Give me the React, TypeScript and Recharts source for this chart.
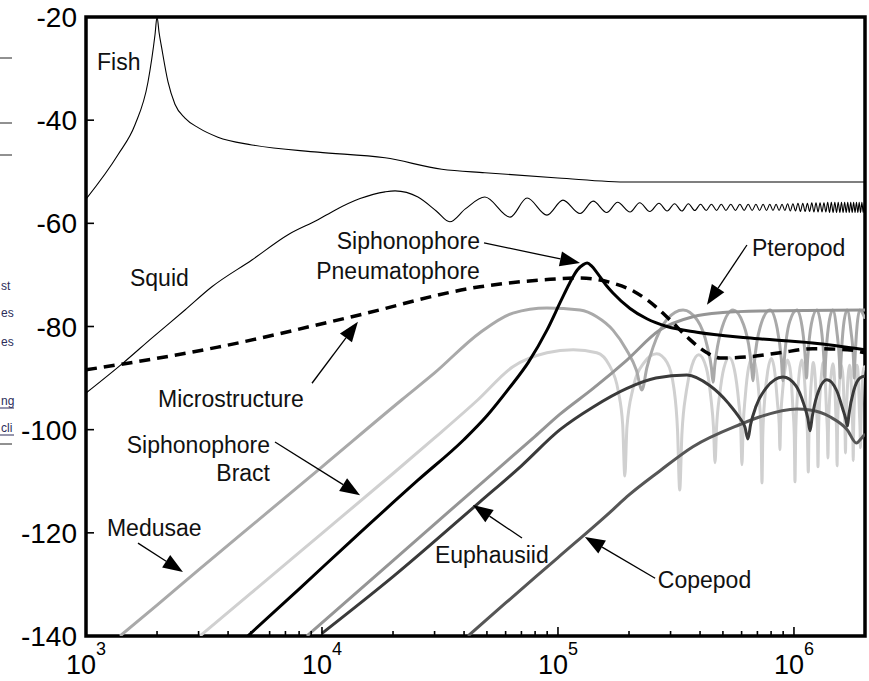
import React from "react";
import {
  LineChart,
  Line,
  XAxis,
  YAxis,
  ReferenceArea,
  ReferenceLine,
  ReferenceDot,
} from "recharts";

// frequency (Hz), target strength (dB)
const fish = [
  [1000, -55.3], [1366, -46.7], [1613, -40.9], [1831, -32.6], [1960, -23.5], [2000, -20],
  [2040, -23], [2093, -26], [2226, -32.6], [2382, -36.9], [2627, -39.6], [3000, -41.5],
  [3622, -43.3], [5046, -44.8], [9614, -46.2], [18500, -47.3], [32200, -49.5], [49000, -50.2],
  [100000, -51.2], [201000, -52], [2000000, -52],
];

const squid = [
  [1000, -92.9], [1434, -87.1], [1905, -82.2], [2627, -76.8], [3416, -72.3],
  [5046, -67.1], [7180, -62.2], [9614, -59.3], [11400, -57.4], [14500, -55.2],
  [18500, -53.9], [20400, -53.7], [25500, -54.9], [30500, -57.6], [34800, -59.7],
  [40500, -57.2], [49000, -54.9], [62700, -58.8], [74000, -55.1], [89800, -58.4],
  [105000, -55.5], [124000, -58.1], [141000, -55.7], [161000, -57.9], [179000, -55.9],
  [202000, -57.8], [222000, -56.0], [245000, -57.7], [268000, -56.1], [290000, -57.6],
  [312000, -56.2], [335000, -57.6], [357000, -56.2], [380000, -57.5], [402000, -56.3],
  [425000, -57.5], [447000, -56.3], [470000, -57.5], [492000, -56.3], [515000, -57.5],
  [540000, -56.3], [565000, -57.5], [590000, -56.3], [615000, -57.5], [640000, -56.3],
  [665000, -57.5], [690000, -56.3], [715000, -57.5], [740000, -56.3], [765000, -57.5],
  [790000, -56.3], [815000, -57.5], [840000, -56.3], [865000, -57.5], [890000, -56.3],
  [915000, -57.5], [940000, -56.2], [965000, -57.6], [990000, -56.2], [1015000, -57.6],
  [1040000, -56.1], [1065000, -57.7], [1090000, -56.1], [1115000, -57.7], [1140000, -56.1],
  [1165000, -57.7], [1190000, -56.0], [1215000, -57.8], [1240000, -56.0], [1265000, -57.8],
  [1290000, -56.0], [1315000, -57.8], [1340000, -56.0], [1365000, -57.8], [1390000, -55.9],
  [1415000, -57.9], [1440000, -55.9], [1465000, -57.9], [1490000, -55.9], [1515000, -57.9],
  [1540000, -55.9], [1565000, -57.9], [1590000, -55.9], [1615000, -57.9], [1640000, -55.9],
  [1665000, -57.9], [1690000, -55.9], [1715000, -57.9], [1740000, -55.9], [1765000, -57.9],
  [1790000, -55.9], [1815000, -57.9], [1840000, -55.9], [1865000, -57.9], [1890000, -55.9],
  [1915000, -57.9], [1940000, -55.9], [1965000, -57.9], [1990000, -55.9], [2000000, -56.5],
];

const microstructure = [
  [1000, -88.4], [3622, -84], [13400, -78.1], [46700, -72.3], [90000, -70.9],
  [124000, -70.6], [171000, -71.6], [210000, -73.2], [238000, -74.8], [298000, -78.7],
  [352000, -82], [428000, -85.1], [486000, -86.1], [632000, -85.9], [872000, -85.1],
  [1200000, -84.3], [1680000, -84.5], [2000000, -85.1],
];

const pneumatophore = [
  [4850, -140], [8080, -130.7], [13400, -121.4], [25500, -109.8], [40000, -101.9],
  [50000, -97.3], [62000, -92], [75000, -86.9], [89800, -80.7], [103000, -75], [112000, -71.6],
  [121000, -69], [128000, -68], [133000, -67.7], [139000, -68.3], [146000, -69.5],
  [160000, -72], [171000, -73.5], [202000, -76.5], [238000, -78.5], [290000, -80],
  [388000, -81.1], [632000, -82.2], [1200000, -83.2], [2000000, -84.5],
];

const medusae = [
  [1394, -140], [2000, -134], [3000, -127.2], [5000, -118.7], [10000, -107.2], [21800, -94.2],
  [30000, -89], [46700, -81.2], [64400, -77.4], [89800, -76.4], [124000, -76.8], [146000, -78.1],
  [171000, -80.7], [195000, -84.5], [215000, -88.5], [227000, -92.3], [238000, -88], [253000, -84],
  [290000, -78.6], [339000, -76.8], [390000, -78.8], [430000, -84], [447000, -88], [454000, -90.8],
  [462000, -87.5], [490000, -81], [552000, -76.8], [610000, -79.5], [650000, -85], [663000, -88.5],
  [670000, -90.5], [678000, -87.5], [720000, -80], [791000, -76.8], [850000, -80.5], [885000, -86.5],
  [898000, -90.5], [910000, -86.5], [960000, -79], [1030000, -76.8], [1090000, -81], [1118000, -86.5],
  [1130000, -90], [1142000, -86.5], [1185000, -79.5], [1250000, -76.8], [1310000, -81], [1340000, -86.5],
  [1350000, -90], [1362000, -86.5], [1400000, -80], [1460000, -76.8], [1520000, -81], [1558000, -86.5],
  [1570000, -90], [1583000, -86.5], [1620000, -80], [1680000, -76.8], [1745000, -81], [1788000, -86.5],
  [1800000, -90], [1813000, -86.5], [1850000, -80], [1900000, -76.8], [2000000, -78.5],
];

const bract = [
  [3040, -140], [5000, -131.7], [10000, -120.1], [20000, -108.5], [30000, -101.6], [45800, -94.2],
  [64400, -87.8], [89800, -85.1], [116000, -84.5], [146000, -85.1], [165000, -87.5], [180000, -92.5],
  [188000, -99], [192000, -109], [196000, -99.5], [208000, -92], [230000, -87.2], [262000, -85.3],
  [290000, -87], [310000, -92], [321000, -100], [328000, -111.7], [335000, -101], [350000, -92.5],
  [370000, -87.5], [395000, -85.5], [425000, -88], [445000, -94], [456000, -99.5], [463000, -106.4],
  [470000, -99.5], [485000, -93], [505000, -88], [532000, -86], [560000, -88.5], [583000, -94.5],
  [595000, -99.5], [602000, -106.8], [609000, -99.5], [622000, -93.5], [642000, -88], [667000, -86],
  [693000, -88.5], [715000, -95], [726000, -101], [732000, -110.3], [738000, -101], [752000, -94],
  [775000, -88.5], [802000, -86.2], [830000, -89], [852000, -95], [866000, -99], [872000, -103.9],
  [878000, -98.5], [893000, -93], [915000, -88.5], [940000, -86.5], [968000, -89], [990000, -96],
  [1003000, -101], [1010000, -110.1], [1017000, -101], [1032000, -94], [1053000, -89], [1078000, -86.5],
  [1105000, -89.5], [1127000, -96], [1140000, -100.5], [1150000, -108.2], [1158000, -100.5], [1172000, -94],
  [1190000, -89.5], [1207000, -87], [1230000, -90], [1250000, -97], [1258000, -100.5], [1264000, -107.2],
  [1272000, -100], [1290000, -93], [1310000, -89], [1330000, -87], [1355000, -90], [1375000, -97],
  [1386000, -100.5], [1393000, -105.5], [1400000, -100], [1420000, -93], [1440000, -89], [1460000, -87.2],
  [1485000, -90], [1505000, -97], [1516000, -100.5], [1523000, -107], [1530000, -100], [1550000, -93],
  [1570000, -89], [1590000, -87.5], [1615000, -90], [1635000, -97], [1646000, -100], [1653000, -104.5],
  [1660000, -99.5], [1680000, -93], [1700000, -89], [1720000, -87.5], [1745000, -90], [1765000, -97],
  [1776000, -100.5], [1783000, -106], [1790000, -100], [1810000, -93], [1830000, -89], [1850000, -87.5],
  [1875000, -90], [1895000, -97], [1906000, -100], [1913000, -103.5], [1920000, -99.5], [1940000, -93],
  [1960000, -89], [1985000, -87.8], [2000000, -88],
];

const pteropod = [
  [8630, -140], [20000, -125.4], [40000, -113.3], [60000, -106.3], [80000, -101.3],
  [102000, -97], [141000, -92], [196000, -86.5], [270000, -80.7], [373000, -78.1],
  [500000, -77.3], [718000, -77], [2000000, -76.8],
];

const euphausiid = [
  [10000, -139.5], [20000, -128.5], [46700, -114], [70000, -107], [102000, -100],
  [141000, -95.6], [196000, -92], [260000, -90], [352000, -89.4], [441000, -91.5],
  [530000, -95], [590000, -97.8], [620000, -99.5], [638000, -101.8], [655000, -99],
  [690000, -95.5], [760000, -92], [898000, -89.8], [1020000, -91.5], [1100000, -95],
  [1145000, -97.8], [1170000, -100.2], [1195000, -97.5], [1250000, -93.5], [1380000, -90.3],
  [1520000, -92.5], [1610000, -96], [1660000, -98], [1685000, -99.3], [1710000, -97],
  [1790000, -92.5], [1900000, -90], [2000000, -89.6],
];

const copepod = [
  [41600, -140], [60000, -133.6], [100000, -124.8], [171000, -115.5], [196000, -113],
  [270000, -108], [373000, -103.3], [590000, -99], [718000, -97.5], [1030000, -96],
  [1170000, -96.2], [1420000, -97.5], [1680000, -100], [1840000, -102.6], [1920000, -101.8],
  [2000000, -100.8],
];

const xMajorTicks = [1000, 10000, 100000, 1000000];
const xMinorTicks = [
  2000, 3000, 4000, 5000, 6000, 7000, 8000, 9000,
  20000, 30000, 40000, 50000, 60000, 70000, 80000, 90000,
  200000, 300000, 400000, 500000, 600000, 700000, 800000, 900000,
];
const yTicks = [-140, -120, -100, -80, -60, -40, -20];

// annotation text, anchored in data coordinates
const labels = [
  { text: "Fish", f: 1113, v: -30.3, anchor: "start" },
  { text: "Squid", f: 1536, v: -72.2, anchor: "start" },
  { text: "Siphonophore", f: 46700, v: -65.0, anchor: "end" },
  { text: "Pneumatophore", f: 46700, v: -70.8, anchor: "end" },
  { text: "Pteropod", f: 664000, v: -66.3, anchor: "start" },
  { text: "Microstructure", f: 2019, v: -95.6, anchor: "start" },
  { text: "Siphonophore", f: 6022, v: -104.5, anchor: "end" },
  { text: "Bract", f: 6022, v: -110.0, anchor: "end" },
  { text: "Medusae", f: 1227, v: -120.6, anchor: "start" },
  { text: "Euphausiid", f: 30100, v: -125.9, anchor: "start" },
  { text: "Copepod", f: 265000, v: -130.7, anchor: "start" },
];

const arrows = [
  { from: [48600, -63.8], to: [124000, -67.7] },
  { from: [632000, -64.2], to: [428000, -75.8] },
  { from: [9070, -91.0], to: [14200, -79.1] },
  { from: [6322, -102.4], to: [14500, -112.7] },
  { from: [1661, -122.0], to: [2576, -127.6] },
  { from: [70400, -121.0], to: [43600, -114.6] },
  { from: [258000, -128.8], to: [130000, -120.8] },
];

// scraps of the neighbouring figure at the left edge
const edgeTexts = ["st", "es", "es", "ng", "cli"];

const FONT = "'Liberation Sans', Arial, Helvetica, sans-serif";
const rows = (pairs: number[][]) => pairs.map(([f, v]) => ({ f, v }));
const xTicks = [...xMajorTicks, ...xMinorTicks].sort((a, b) => a - b);

const BottomTick = (p: any) => {
  const val = p.payload.value;
  const major = xMajorTicks.includes(val);
  return (
    <g>
      <line x1={p.x} y1={p.y} x2={p.x} y2={p.y - (major ? 9 : 5)} stroke="#000" strokeWidth={1.6} />
      {major && (
        <text x={p.x} y={p.y + 38} textAnchor="middle" fontSize={27} fontFamily={FONT} fill="#000">
          10
          <tspan dy={-19} fontSize={18}>
            {Math.round(Math.log10(val))}
          </tspan>
        </text>
      )}
    </g>
  );
};

const TopTick = (p: any) => {
  const major = xMajorTicks.includes(p.payload.value);
  return <line x1={p.x} y1={p.y} x2={p.x} y2={p.y + (major ? 9 : 5)} stroke="#000" strokeWidth={1.6} />;
};

const LeftTick = (p: any) => (
  <g>
    <line x1={p.x} y1={p.y} x2={p.x + 8} y2={p.y} stroke="#000" strokeWidth={1.6} />
    <text x={p.x - 9} y={p.y + 10} textAnchor="end" fontSize={28} fontFamily={FONT} fill="#000">
      {p.payload.value}
    </text>
  </g>
);

const RightTick = (p: any) => (
  <line x1={p.x} y1={p.y} x2={p.x - 8} y2={p.y} stroke="#000" strokeWidth={1.6} />
);

const Arrow = (p: any) => {
  const { x1, y1, x2, y2 } = p;
  const dx = x2 - x1;
  const dy = y2 - y1;
  const len = Math.hypot(dx, dy) || 1;
  const ux = dx / len;
  const uy = dy / len;
  const hl = 20;
  const hw = 7.5;
  const bx = x2 - ux * hl;
  const by = y2 - uy * hl;
  const pts = `${x2},${y2} ${bx - uy * hw},${by + ux * hw} ${bx + uy * hw},${by - ux * hw}`;
  return (
    <g>
      <line x1={x1} y1={y1} x2={bx} y2={by} stroke="#000" strokeWidth={1.3} />
      <polygon points={pts} fill="#000" />
    </g>
  );
};

const series = [
  { name: "Bract", data: bract, color: "#d0d0d0", width: 3 },
  { name: "Medusae", data: medusae, color: "#a9a9a9", width: 3 },
  { name: "Pteropod", data: pteropod, color: "#959595", width: 3 },
  { name: "Copepod", data: copepod, color: "#565656", width: 3 },
  { name: "Euphausiid", data: euphausiid, color: "#3a3a3a", width: 3 },
  { name: "Pneumatophore", data: pneumatophore, color: "#000", width: 3 },
  { name: "Microstructure", data: microstructure, color: "#000", width: 3.5, dash: "11 7" },
  { name: "Squid", data: squid, color: "#000", width: 1.1 },
  { name: "Fish", data: fish, color: "#000", width: 1.1 },
];

export default function App() {
  return (
    <div style={{ position: "absolute", left: 0, top: 0, width: 869, height: 681, background: "#fff" }}>
      <svg style={{ position: "absolute", left: 0, top: 0 }} width={40} height={681}>
        <line x1={0} y1={58} x2={12} y2={58} stroke="#222" strokeWidth={1} />
        <line x1={0} y1={123} x2={12} y2={123} stroke="#222" strokeWidth={1} />
        <line x1={0} y1={155} x2={12} y2={155} stroke="#222" strokeWidth={1} />
        <g fontFamily={FONT} fontSize={12} fill="#2d2d5a">
          {edgeTexts.map((t, i) => (
            <text key={i} x={1} y={[290, 317, 346, 405, 432][i]}>
              {t}
            </text>
          ))}
        </g>
        <line x1={0} y1={408} x2={14} y2={408} stroke="#2d2d5a" strokeWidth={1} />
        <line x1={0} y1={435} x2={14} y2={435} stroke="#2d2d5a" strokeWidth={1} />
        <line x1={0} y1={444} x2={12} y2={444} stroke="#222" strokeWidth={1} />
      </svg>
      <div style={{ position: "absolute", left: 0, top: 0 }}>
        <LineChart width={869} height={681} margin={{ top: 17, right: 4, bottom: 0, left: 0 }}>
          <XAxis
            dataKey="f"
            type="number"
            scale="log"
            domain={[1000, 2000000]}
            allowDataOverflow
            ticks={xTicks}
            interval={0}
            height={45}
            tickSize={0}
            tickMargin={0}
            axisLine={false}
            tickLine={false}
            tick={BottomTick}
          />
          <XAxis
            xAxisId="top"
            orientation="top"
            dataKey="f"
            type="number"
            scale="log"
            domain={[1000, 2000000]}
            allowDataOverflow
            ticks={xTicks}
            interval={0}
            height={0}
            tickSize={0}
            tickMargin={0}
            axisLine={false}
            tickLine={false}
            tick={TopTick}
          />
          <YAxis
            type="number"
            domain={[-140, -20]}
            allowDataOverflow
            ticks={yTicks}
            interval={0}
            width={86}
            tickSize={0}
            tickMargin={0}
            axisLine={false}
            tickLine={false}
            tick={LeftTick}
          />
          <YAxis
            yAxisId="right"
            orientation="right"
            type="number"
            domain={[-140, -20]}
            allowDataOverflow
            ticks={yTicks}
            interval={0}
            width={0}
            tickSize={0}
            tickMargin={0}
            axisLine={false}
            tickLine={false}
            tick={RightTick}
          />
          {series.map((s) => (
            <Line
              key={s.name}
              name={s.name}
              data={rows(s.data)}
              dataKey="v"
              type="monotone"
              stroke={s.color}
              strokeWidth={s.width}
              strokeDasharray={s.dash}
              dot={false}
              activeDot={false}
              isAnimationActive={false}
            />
          ))}
          {arrows.map((a, i) => (
            <ReferenceLine
              key={`arrow-${i}`}
              segment={[
                { x: a.from[0], y: a.from[1] },
                { x: a.to[0], y: a.to[1] },
              ]}
              shape={Arrow}
            />
          ))}
          {labels.map((l, i) => (
            <ReferenceDot
              key={`label-${i}`}
              x={l.f}
              y={l.v}
              shape={(p: any) => (
                <text x={p.cx} y={p.cy} textAnchor={l.anchor} fontSize={23} fontFamily={FONT} fill="#111">
                  {l.text}
                </text>
              )}
            />
          ))}
          <ReferenceArea x1={1000} x2={2000000} y1={-140} y2={-20} fill="none" stroke="#000" strokeWidth={3.5} />
        </LineChart>
      </div>
    </div>
  );
}
